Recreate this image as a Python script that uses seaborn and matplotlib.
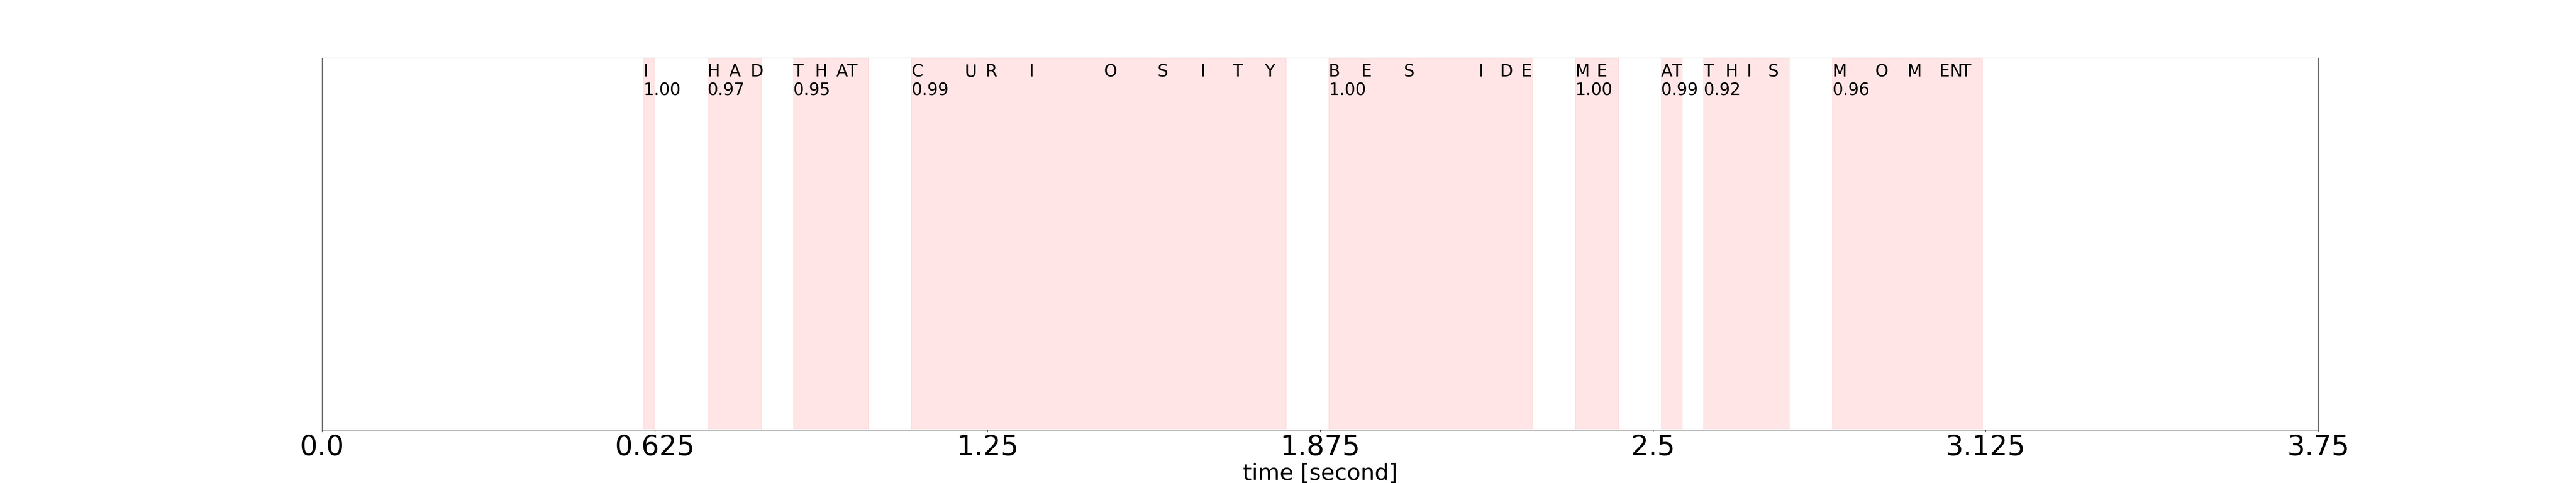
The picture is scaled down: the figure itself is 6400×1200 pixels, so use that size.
import seaborn as sns
import matplotlib
matplotlib.use("Agg")
import matplotlib.pyplot as plt
import numpy as np

# Words of the transcript with their alignment score
words = ["I", "HAD", "THAT", "CURIOSITY", "BESIDE", "ME", "AT", "THIS", "MOMENT"]
scores = [1.00, 0.97, 0.95, 0.99, 1.00, 1.00, 0.99, 0.92, 0.96]

# Word span start / end in seconds
span_start = [0.604, 0.724, 0.885, 1.107, 1.891, 2.354, 2.515, 2.595, 2.837]
span_end = [0.624, 0.825, 1.026, 1.811, 2.274, 2.435, 2.555, 2.756, 3.119]

# Start time of each character (seconds), one list per word
char_times = [
    [0.604],
    [0.724, 0.765, 0.805],
    [0.885, 0.926, 0.966, 0.986],
    [1.107, 1.207, 1.247, 1.328, 1.469, 1.569, 1.650, 1.710, 1.771],
    [1.891, 1.952, 2.032, 2.173, 2.213, 2.253],
    [2.354, 2.394],
    [2.515, 2.535],
    [2.595, 2.636, 2.676, 2.716],
    [2.837, 2.917, 2.978, 3.038, 3.058, 3.078],
]

tick_vals = [0.0, 0.625, 1.25, 1.875, 2.5, 3.125, 3.75]

sns.set_theme(style="ticks", rc={
    "axes.edgecolor": "black",
    "axes.linewidth": 0.8,
    "xtick.major.size": 3.5,
    "xtick.major.width": 0.8,
    "xtick.color": "black",
    "axes.labelcolor": "black",
    "text.color": "black",
})
plt.rcParams["font.family"] = ["DejaVu Sans"]

fig, ax = plt.subplots(figsize=(64, 12), dpi=100)

# word spans, score under each word, characters at their start time
for word, sc, t0, t1, times in zip(words, scores, span_start, span_end, char_times):
    ax.axvspan(t0, t1, alpha=0.1, color="red")
    ax.annotate(f"{sc:.2f}", (t0, 0.90), fontsize=30, annotation_clip=False)
    for ch, t in zip(word, times):
        ax.annotate(ch, (t, 0.95), fontsize=30, annotation_clip=False)

ax.set_xlim(0, 3.75)
ax.set_ylim(0, 1)
ax.set_yticks([])
ax.set_xticks(tick_vals)
ax.set_xticklabels([str(v) for v in tick_vals], fontsize=50)
ax.set_xlabel("time [second]", fontsize=40)

plt.savefig("out.png", dpi=100)
